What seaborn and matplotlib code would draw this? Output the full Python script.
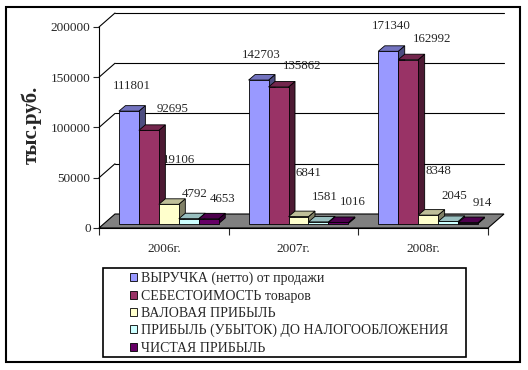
import numpy as np
import pandas as pd
import seaborn as sns
import matplotlib.pyplot as plt
from matplotlib.patches import Polygon, Rectangle, Patch
from matplotlib.lines import Line2D
from matplotlib.transforms import ScaledTranslation, IdentityTransform

# данные
years = ['2006г.', '2007г.', '2008г.']
series = ['ВЫРУЧКА (нетто) от продажи', 'СЕБЕСТОИМОСТЬ товаров', 'ВАЛОВАЯ ПРИБЫЛЬ',
          'ПРИБЫЛЬ (УБЫТОК) ДО НАЛОГООБЛОЖЕНИЯ', 'ЧИСТАЯ ПРИБЫЛЬ']
revenue = [111801, 142703, 171340]
cost = [92695, 135862, 162992]
gross = [19106, 6841, 8348]
pretax = [4792, 1581, 2045]
net = [4653, 1016, 914]
colors = ['#9999FF', '#993366', '#FFFFCC', '#CCFFFF', '#660066']

values = [revenue, cost, gross, pretax, net]
df = pd.DataFrame([(y, s, v[j]) for s, v in zip(series, values) for j, y in enumerate(years)],
                  columns=['year', 'series', 'value'])

sns.set_style('white')
plt.rcParams['font.family'] = ['Liberation Serif', 'DejaVu Serif']

W, H = 528, 370
fig = plt.figure(figsize=(W / 100, H / 100), dpi=100)
ax = fig.add_axes([99 / W, (H - 228) / H, 389 / W, 201 / H])
ax.set_facecolor('none')

sns.barplot(data=df, x='year', y='value', hue='series', hue_order=series, palette=colors,
            width=0.77, saturation=1, edgecolor='black', linewidth=0.6, legend=False, ax=ax)

ax.set_xlim(-0.5, 2.5)
ax.set_ylim(0, 200000)
ax.set_autoscale_on(False)

# псевдо-3D: смещения в пикселях
bdx, bdy = 5, 4.5      # столбцы относительно передней плоскости
ddx, ddy = 6.5, 5.5    # глубина столбцов
wdx, wdy = 16, 14      # задняя стенка
bar_off = ax.transData + ScaledTranslation(bdx / 100, bdy / 100, fig.dpi_scale_trans)
wall_off = ax.transData + ScaledTranslation(wdx / 100, wdy / 100, fig.dpi_scale_trans)

# задняя стенка и сетка
yt = [0, 50000, 100000, 150000, 200000]
for v in yt[1:]:
    ax.plot([-0.5, 2.5], [v, v], color='black', lw=0.8, transform=wall_off, zorder=0.5, clip_on=False)
    X, Y = ax.transData.transform((-0.5, v))
    ax.add_line(Line2D([X, X + wdx], [Y, Y + wdy], color='black', lw=0.8,
                       transform=IdentityTransform(), zorder=0.5, clip_on=False))

# пол
XL, Y0 = ax.transData.transform((-0.5, 0))
XR, _ = ax.transData.transform((2.5, 0))
ax.add_patch(Polygon([(XL, Y0), (XL + wdx, Y0 + wdy), (XR + wdx, Y0 + wdy), (XR, Y0)],
                     closed=True, facecolor='#808080', edgecolor='black', lw=0.8,
                     transform=IdentityTransform(), zorder=1, clip_on=False))

# грани столбцов и подписи
label_off = [(3, 25), (24, 21), (10, 44), (6, 25), (14, 20)]
for i, cont in enumerate(ax.containers):
    rgb = np.array(plt.matplotlib.colors.to_rgb(colors[i]))
    for j, bar in enumerate(cont):
        k = j * 5 + i
        bar.set_transform(bar_off)
        bar.set_zorder(3 + k * 0.01 + 0.005)
        bar.set_clip_on(False)
        x0, w, h = bar.get_x(), bar.get_width(), bar.get_height()
        X0, Ya = bar_off.transform((x0, 0))
        X1, Yb = bar_off.transform((x0 + w, h))
        top = [(X0, Yb), (X0 + ddx, Yb + ddy), (X1 + ddx, Yb + ddy), (X1, Yb)]
        side = [(X1, Ya), (X1 + ddx, Ya + ddy), (X1 + ddx, Yb + ddy), (X1, Yb)]
        for pts, f in [(side, 0.5), (top, 0.75)]:
            ax.add_patch(Polygon(pts, closed=True, facecolor=rgb * f, edgecolor='black', lw=0.6,
                                 transform=IdentityTransform(), zorder=3 + k * 0.01, clip_on=False))
        ax.annotate(str(values[i][j]), xy=(x0 + w / 2, h), xycoords=bar_off,
                    xytext=label_off[i], textcoords='offset pixels', ha='center', va='center',
                    fontsize=9.3, zorder=2, annotation_clip=False)

# оси
for s in ['top', 'right']:
    ax.spines[s].set_visible(False)
for s in ['left', 'bottom']:
    ax.spines[s].set_color('black')
    ax.spines[s].set_linewidth(0.8)
ax.set_yticks(yt, [str(v) for v in yt])
ax.set_xticks([0, 1, 2], years)
ax.set_xticks([-0.5, 0.5, 1.5, 2.5], minor=True)
ax.tick_params(axis='y', direction='out', length=4, width=0.8, labelsize=9.5, pad=2, left=True)
ax.tick_params(axis='x', which='major', length=0, labelsize=9.5, pad=11)
ax.tick_params(axis='x', which='minor', direction='out', length=5, width=0.8, bottom=True)
ax.set_xlabel('')
ax.set_ylabel('тыс.руб.', fontsize=15, fontweight='bold')
ax.yaxis.set_label_coords((42 - 99) / 389, (228 - 125) / 201)

# легенда
handles = [Patch(facecolor=c, edgecolor='black', linewidth=0.6) for c in colors]
fig.legend(handles=handles, labels=series, loc='upper left', bbox_to_anchor=(130 / W, 1 - 272 / H),
           frameon=False, fontsize=10, handlelength=0.5, handleheight=0.5, handletextpad=0.3,
           labelspacing=0.3, borderpad=0, borderaxespad=0)
fig.add_artist(Rectangle((103 / W, 1 - 357 / H), (466 - 103) / W, (357 - 268) / H,
                         transform=fig.transFigure, fill=False, edgecolor='black', lw=1.2))
fig.add_artist(Rectangle((5.5 / W, 1 - 362 / H), (520 - 5.5) / W, (362 - 7) / H,
                         transform=fig.transFigure, fill=False, edgecolor='black', lw=1.5))

fig.savefig('out.png', dpi=100)
